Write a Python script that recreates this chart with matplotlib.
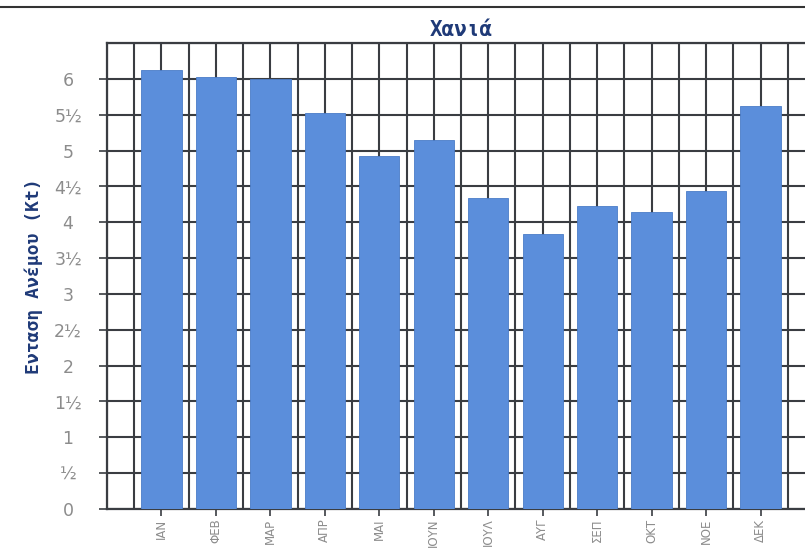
import matplotlib
matplotlib.use("Agg")
from matplotlib import pyplot as plt
from matplotlib.ticker import MultipleLocator
import numpy as np

# Monthly mean wind speed, Chania (knots)
months = ["ΙΑΝ", "ΦΕΒ", "ΜΑΡ", "ΑΠΡ", "ΜΑΙ", "ΙΟΥΝ",
          "ΙΟΥΛ", "ΑΥΓ", "ΣΕΠ", "ΟΚΤ", "ΝΟΕ", "ΔΕΚ"]
wind_kt = [6.13, 6.02, 6.0, 5.52, 4.93, 5.15, 4.34, 3.83, 4.23, 4.14, 4.44, 5.62]
y_ticks = [0, 0.5, 1, 1.5, 2, 2.5, 3, 3.5, 4, 4.5, 5, 5.5, 6]
y_labels = ["0", "½", "1", "1½", "2", "2½", "3", "3½", "4", "4½", "5", "5½", "6"]

grid_clr = "#3a3d42"
bar_clr = "#5b8edb"
text_clr = "#8c8c8c"
title_clr = "#1f3a78"

fig = plt.figure(figsize=(8.05, 5.48), dpi=100)
ax = fig.add_axes([107 / 805, 39 / 548, 708 / 805, 466 / 548])

x = np.arange(len(months))
ax.bar(x, wind_kt, width=0.74, color=bar_clr, edgecolor="#4a7cc8",
       linewidth=0.6, zorder=3)

ax.set_xlim(-1.0, 12.0)
ax.set_ylim(0, 6.5)

ax.set_xticks(x)
ax.set_xticklabels(months, rotation=90, va="top", fontsize=8.5,
                   color=text_clr, family="DejaVu Sans")
ax.xaxis.set_minor_locator(MultipleLocator(0.5))
ax.set_yticks(y_ticks)
ax.set_yticklabels(y_labels, fontsize=12.5, color=text_clr,
                   family="DejaVu Sans", ha="center")
ax.yaxis.set_minor_locator(MultipleLocator(0.5))

ax.tick_params(axis="both", which="major", direction="out", length=6,
               width=1.2, color=grid_clr)
ax.tick_params(axis="x", which="major", length=5, pad=2)
ax.tick_params(axis="y", which="major", pad=22)
ax.tick_params(which="minor", length=0)

ax.grid(True, which="both", color=grid_clr, linewidth=1.5, zorder=0)
ax.set_axisbelow(True)
for s in ax.spines.values():
    s.set_color(grid_clr)
    s.set_linewidth(1.6)

ax.set_title("Χανιά", fontsize=15, fontweight="bold", color=title_clr,
             family="DejaVu Sans Mono", pad=5)
ax.set_ylabel("Ενταση Ανέμου (Kt)", fontsize=13, fontweight="bold",
              color=title_clr, family="DejaVu Sans Mono", labelpad=8)

# cropped page rule at the very top
fig.add_artist(plt.Line2D([0, 1], [1 - 7 / 548, 1 - 7 / 548],
                          color="#333333", linewidth=1.5))

fig.savefig("out.png", dpi=100)
